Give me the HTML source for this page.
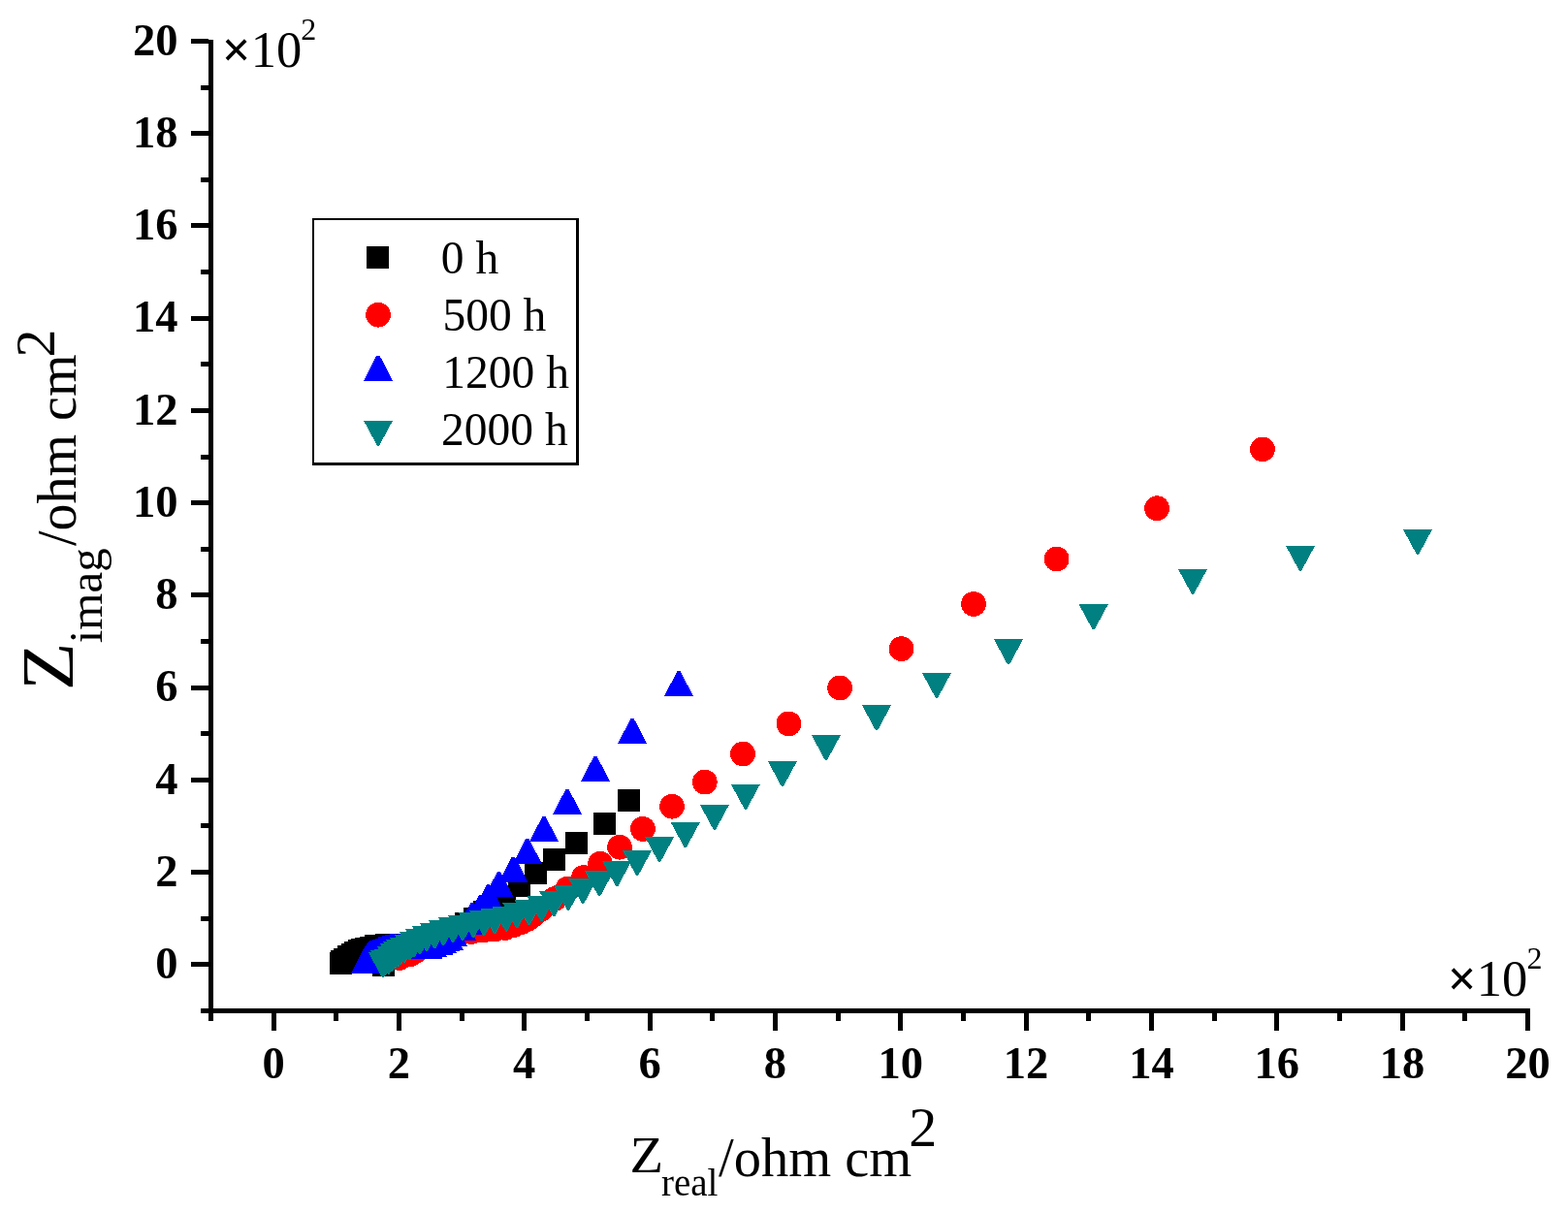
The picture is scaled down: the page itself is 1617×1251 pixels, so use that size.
<!DOCTYPE html>
<html><head><meta charset="utf-8"><style>
html,body{margin:0;padding:0;background:#fff;}
svg{display:block;}
text{font-family:"Liberation Serif","Times New Roman",serif;}
</style></head><body>
<svg width="1617" height="1251" viewBox="0 0 1617 1251">
<rect width="1617" height="1251" fill="#fff"/>
<g shape-rendering="crispEdges" fill="#000">
<rect x="215" y="41" width="5" height="1012"/>
<rect x="207" y="1040" width="1371" height="5"/>
<rect x="197" y="992" width="18" height="5"/>
<rect x="207" y="945" width="8" height="5"/>
<rect x="197" y="897" width="18" height="5"/>
<rect x="207" y="849" width="8" height="5"/>
<rect x="197" y="802" width="18" height="5"/>
<rect x="207" y="754" width="8" height="5"/>
<rect x="197" y="707" width="18" height="5"/>
<rect x="207" y="659" width="8" height="5"/>
<rect x="197" y="611" width="18" height="5"/>
<rect x="207" y="564" width="8" height="5"/>
<rect x="197" y="516" width="18" height="5"/>
<rect x="207" y="469" width="8" height="5"/>
<rect x="197" y="421" width="18" height="5"/>
<rect x="207" y="373" width="8" height="5"/>
<rect x="197" y="326" width="18" height="5"/>
<rect x="207" y="278" width="8" height="5"/>
<rect x="197" y="230" width="18" height="5"/>
<rect x="207" y="183" width="8" height="5"/>
<rect x="197" y="135" width="18" height="5"/>
<rect x="207" y="88" width="8" height="5"/>
<rect x="197" y="40" width="18" height="5"/>
<rect x="280" y="1045" width="5" height="18"/>
<rect x="344" y="1045" width="5" height="8"/>
<rect x="409" y="1045" width="5" height="18"/>
<rect x="474" y="1045" width="5" height="8"/>
<rect x="538" y="1045" width="5" height="18"/>
<rect x="603" y="1045" width="5" height="8"/>
<rect x="668" y="1045" width="5" height="18"/>
<rect x="732" y="1045" width="5" height="8"/>
<rect x="797" y="1045" width="5" height="18"/>
<rect x="862" y="1045" width="5" height="8"/>
<rect x="926" y="1045" width="5" height="18"/>
<rect x="991" y="1045" width="5" height="8"/>
<rect x="1056" y="1045" width="5" height="18"/>
<rect x="1120" y="1045" width="5" height="8"/>
<rect x="1185" y="1045" width="5" height="18"/>
<rect x="1250" y="1045" width="5" height="8"/>
<rect x="1314" y="1045" width="5" height="18"/>
<rect x="1379" y="1045" width="5" height="8"/>
<rect x="1444" y="1045" width="5" height="18"/>
<rect x="1508" y="1045" width="5" height="8"/>
<rect x="1573" y="1045" width="5" height="18"/>
</g>
<g font-family="'Liberation Serif', 'Times New Roman', serif" font-weight="bold" font-size="46.5" fill="#000">
<text x="282.0" y="1112" text-anchor="middle">0</text>
<text x="411.4" y="1112" text-anchor="middle">2</text>
<text x="540.7" y="1112" text-anchor="middle">4</text>
<text x="670.0" y="1112" text-anchor="middle">6</text>
<text x="799.4" y="1112" text-anchor="middle">8</text>
<text x="928.8" y="1112" text-anchor="middle">10</text>
<text x="1058.1" y="1112" text-anchor="middle">12</text>
<text x="1187.4" y="1112" text-anchor="middle">14</text>
<text x="1316.8" y="1112" text-anchor="middle">16</text>
<text x="1446.1" y="1112" text-anchor="middle">18</text>
<text x="1575.5" y="1112" text-anchor="middle">20</text>
<text x="183.4" y="1009.0" text-anchor="end">0</text>
<text x="183.4" y="913.8" text-anchor="end">2</text>
<text x="183.4" y="818.5" text-anchor="end">4</text>
<text x="183.4" y="723.3" text-anchor="end">6</text>
<text x="183.4" y="628.1" text-anchor="end">8</text>
<text x="183.4" y="532.8" text-anchor="end">10</text>
<text x="183.4" y="437.6" text-anchor="end">12</text>
<text x="183.4" y="342.4" text-anchor="end">14</text>
<text x="183.4" y="247.2" text-anchor="end">16</text>
<text x="183.4" y="151.9" text-anchor="end">18</text>
<text x="183.4" y="56.7" text-anchor="end">20</text>
</g>
<g font-family="'Liberation Serif', 'Times New Roman', serif" fill="#000">
<text x="228.8" y="69" font-size="52.5"><tspan font-weight="bold">×</tspan>10</text><text x="310.3" y="41" font-size="32">2</text>
<text x="1492.8" y="1027" font-size="52.5"><tspan font-weight="bold">×</tspan>10</text><text x="1574.5" y="999.2" font-size="32">2</text>
<text x="649.5" y="1209" font-size="52" textLength="34.6" lengthAdjust="spacingAndGlyphs">Z</text>
<text x="682" y="1233" font-size="39">real</text>
<text x="741" y="1212.6" font-size="56.5">/ohm cm</text>
<text x="937.3" y="1182.3" font-size="58">2</text>
<g transform="rotate(-90)">
<text x="-712" y="75.2" font-size="77" textLength="49.3" lengthAdjust="spacingAndGlyphs">Z</text>
<text x="-663.3" y="105" font-size="49">imag</text>
<text x="-563" y="78" font-size="56">/ohm cm</text>
<text x="-368.5" y="56" font-size="58">2</text>
</g>
<g font-size="47.5">
<text x="454.8" y="281.6">0 h</text>
<text x="456.4" y="340.7">500 h</text>
<text x="456.3" y="399.6">1200 h</text>
<text x="455.1" y="458.5">2000 h</text>
</g>
</g>
<g shape-rendering="crispEdges" fill="#000">
<rect x="322" y="225" width="275" height="2"/><rect x="322" y="477" width="275" height="3"/>
<rect x="322" y="225" width="2" height="255"/><rect x="594" y="225" width="3" height="255"/>
</g>
<g shape-rendering="crispEdges">
<rect x="378.2" y="254.3" width="23" height="23" fill="#000000"/>
<circle cx="390.0" cy="324.7" r="12.9" fill="#ff0000"/>
<polygon points="388.5,366.6 391.5,366.6 405.0,392.6 375.0,392.6" fill="#0000ff"/>
<polygon points="375.0,433.8 405.0,433.8 391.0,459.8 389.0,459.8" fill="#008080"/>
<rect x="340.0" y="982.0" width="23" height="23" fill="#000000"/>
<rect x="340.5" y="979.5" width="23" height="23" fill="#000000"/>
<rect x="344.0" y="978.0" width="23" height="23" fill="#000000"/>
<rect x="348.0" y="975.0" width="23" height="23" fill="#000000"/>
<rect x="352.0" y="973.0" width="23" height="23" fill="#000000"/>
<rect x="355.0" y="971.0" width="23" height="23" fill="#000000"/>
<rect x="359.0" y="969.0" width="23" height="23" fill="#000000"/>
<rect x="362.0" y="968.0" width="23" height="23" fill="#000000"/>
<rect x="366.0" y="967.0" width="23" height="23" fill="#000000"/>
<rect x="371.0" y="966.0" width="23" height="23" fill="#000000"/>
<rect x="376.0" y="964.0" width="23" height="23" fill="#000000"/>
<rect x="387.0" y="963.0" width="23" height="23" fill="#000000"/>
<rect x="394.5" y="964.5" width="23" height="23" fill="#000000"/>
<rect x="388.5" y="973.5" width="23" height="23" fill="#000000"/>
<rect x="384.1" y="983.9" width="23" height="23" fill="#000000"/>
<rect x="398.5" y="966.5" width="23" height="23" fill="#000000"/>
<rect x="413.5" y="960.5" width="23" height="23" fill="#000000"/>
<rect x="428.5" y="954.5" width="23" height="23" fill="#000000"/>
<rect x="443.5" y="950.5" width="23" height="23" fill="#000000"/>
<rect x="456.5" y="946.5" width="23" height="23" fill="#000000"/>
<rect x="469.3" y="941.0" width="23" height="23" fill="#000000"/>
<rect x="478.2" y="936.0" width="23" height="23" fill="#000000"/>
<rect x="487.5" y="929.0" width="23" height="23" fill="#000000"/>
<rect x="497.5" y="921.5" width="23" height="23" fill="#000000"/>
<rect x="509.0" y="913.5" width="23" height="23" fill="#000000"/>
<rect x="524.0" y="901.5" width="23" height="23" fill="#000000"/>
<rect x="541.0" y="888.8" width="23" height="23" fill="#000000"/>
<rect x="560.0" y="874.5" width="23" height="23" fill="#000000"/>
<rect x="583.1" y="858.0" width="23" height="23" fill="#000000"/>
<rect x="612.0" y="837.5" width="23" height="23" fill="#000000"/>
<rect x="637.0" y="814.0" width="23" height="23" fill="#000000"/>
<circle cx="412.0" cy="988.0" r="12.9" fill="#ff0000"/>
<circle cx="422.5" cy="984.6" r="12.9" fill="#ff0000"/>
<circle cx="428.9" cy="980.7" r="12.9" fill="#ff0000"/>
<circle cx="434.6" cy="976.3" r="12.9" fill="#ff0000"/>
<circle cx="445.0" cy="972.0" r="12.9" fill="#ff0000"/>
<circle cx="455.0" cy="968.0" r="12.9" fill="#ff0000"/>
<circle cx="465.0" cy="965.0" r="12.9" fill="#ff0000"/>
<circle cx="475.0" cy="962.0" r="12.9" fill="#ff0000"/>
<circle cx="486.0" cy="961.0" r="12.9" fill="#ff0000"/>
<circle cx="498.0" cy="959.5" r="12.9" fill="#ff0000"/>
<circle cx="510.0" cy="958.5" r="12.9" fill="#ff0000"/>
<circle cx="521.0" cy="957.0" r="12.9" fill="#ff0000"/>
<circle cx="530.0" cy="954.0" r="12.9" fill="#ff0000"/>
<circle cx="538.0" cy="951.0" r="12.9" fill="#ff0000"/>
<circle cx="544.0" cy="948.0" r="12.9" fill="#ff0000"/>
<circle cx="550.0" cy="943.5" r="12.9" fill="#ff0000"/>
<circle cx="558.0" cy="937.5" r="12.9" fill="#ff0000"/>
<circle cx="572.0" cy="927.0" r="12.9" fill="#ff0000"/>
<circle cx="585.5" cy="916.5" r="12.9" fill="#ff0000"/>
<circle cx="602.0" cy="904.9" r="12.9" fill="#ff0000"/>
<circle cx="619.0" cy="890.8" r="12.9" fill="#ff0000"/>
<circle cx="639.0" cy="873.7" r="12.9" fill="#ff0000"/>
<circle cx="662.9" cy="854.9" r="12.9" fill="#ff0000"/>
<circle cx="693.0" cy="831.7" r="12.9" fill="#ff0000"/>
<circle cx="726.8" cy="806.6" r="12.9" fill="#ff0000"/>
<circle cx="766.0" cy="777.5" r="12.9" fill="#ff0000"/>
<circle cx="813.4" cy="746.4" r="12.9" fill="#ff0000"/>
<circle cx="866.1" cy="709.4" r="12.9" fill="#ff0000"/>
<circle cx="929.6" cy="669.1" r="12.9" fill="#ff0000"/>
<circle cx="1004.0" cy="622.9" r="12.9" fill="#ff0000"/>
<circle cx="1089.6" cy="576.5" r="12.9" fill="#ff0000"/>
<circle cx="1193.1" cy="524.2" r="12.9" fill="#ff0000"/>
<circle cx="1302.0" cy="463.4" r="12.9" fill="#ff0000"/>
<polygon points="375.5,977.5 378.5,977.5 392.0,1003.5 362.0,1003.5" fill="#0000ff"/>
<polygon points="377.0,975.0 380.0,975.0 393.5,1001.0 363.5,1001.0" fill="#0000ff"/>
<polygon points="379.0,972.0 382.0,972.0 395.5,998.0 365.5,998.0" fill="#0000ff"/>
<polygon points="380.5,970.5 383.5,970.5 397.0,996.5 367.0,996.5" fill="#0000ff"/>
<polygon points="381.9,969.7 384.9,969.7 398.4,995.7 368.4,995.7" fill="#0000ff"/>
<polygon points="384.5,968.5 387.5,968.5 401.0,994.5 371.0,994.5" fill="#0000ff"/>
<polygon points="387.9,967.5 390.9,967.5 404.4,993.5 374.4,993.5" fill="#0000ff"/>
<polygon points="390.5,966.3 393.5,966.3 407.0,992.3 377.0,992.3" fill="#0000ff"/>
<polygon points="393.8,965.2 396.8,965.2 410.3,991.2 380.3,991.2" fill="#0000ff"/>
<polygon points="397.5,964.2 400.5,964.2 414.0,990.2 384.0,990.2" fill="#0000ff"/>
<polygon points="401.6,963.4 404.6,963.4 418.1,989.4 388.1,989.4" fill="#0000ff"/>
<polygon points="405.5,963.1 408.5,963.1 422.0,989.1 392.0,989.1" fill="#0000ff"/>
<polygon points="410.1,963.0 413.1,963.0 426.6,989.0 396.6,989.0" fill="#0000ff"/>
<polygon points="418.5,963.0 421.5,963.0 435.0,989.0 405.0,989.0" fill="#0000ff"/>
<polygon points="426.5,963.0 429.5,963.0 443.0,989.0 413.0,989.0" fill="#0000ff"/>
<polygon points="433.5,963.0 436.5,963.0 450.0,989.0 420.0,989.0" fill="#0000ff"/>
<polygon points="440.2,962.9 443.2,962.9 456.7,988.9 426.7,988.9" fill="#0000ff"/>
<polygon points="444.4,961.0 447.4,961.0 460.9,987.0 430.9,987.0" fill="#0000ff"/>
<polygon points="450.8,958.8 453.8,958.8 467.3,984.8 437.3,984.8" fill="#0000ff"/>
<polygon points="454.6,956.9 457.6,956.9 471.1,982.9 441.1,982.9" fill="#0000ff"/>
<polygon points="457.5,955.0 460.5,955.0 474.0,981.0 444.0,981.0" fill="#0000ff"/>
<polygon points="461.5,953.5 464.5,953.5 478.0,979.5 448.0,979.5" fill="#0000ff"/>
<polygon points="465.5,950.0 468.5,950.0 482.0,976.0 452.0,976.0" fill="#0000ff"/>
<polygon points="474.2,943.5 477.2,943.5 490.7,969.5 460.7,969.5" fill="#0000ff"/>
<polygon points="481.1,938.0 484.1,938.0 497.6,964.0 467.6,964.0" fill="#0000ff"/>
<polygon points="485.5,931.0 488.5,931.0 502.0,957.0 472.0,957.0" fill="#0000ff"/>
<polygon points="494.0,923.0 497.0,923.0 510.5,949.0 480.5,949.0" fill="#0000ff"/>
<polygon points="502.2,912.0 505.2,912.0 518.7,938.0 488.7,938.0" fill="#0000ff"/>
<polygon points="513.0,898.8 516.0,898.8 529.5,924.8 499.5,924.8" fill="#0000ff"/>
<polygon points="527.9,883.5 530.9,883.5 544.4,909.5 514.4,909.5" fill="#0000ff"/>
<polygon points="542.4,864.8 545.4,864.8 558.9,890.8 528.9,890.8" fill="#0000ff"/>
<polygon points="559.5,841.9 562.5,841.9 576.0,867.9 546.0,867.9" fill="#0000ff"/>
<polygon points="583.5,813.8 586.5,813.8 600.0,839.8 570.0,839.8" fill="#0000ff"/>
<polygon points="612.5,779.8 615.5,779.8 629.0,805.8 599.0,805.8" fill="#0000ff"/>
<polygon points="650.6,740.8 653.6,740.8 667.1,766.8 637.1,766.8" fill="#0000ff"/>
<polygon points="698.5,692.0 701.5,692.0 715.0,718.0 685.0,718.0" fill="#0000ff"/>
<polygon points="380.0,982.3 410.0,982.3 396.0,1008.3 394.0,1008.3" fill="#008080"/>
<polygon points="382.0,980.4 412.0,980.4 398.0,1006.4 396.0,1006.4" fill="#008080"/>
<polygon points="385.7,978.6 415.7,978.6 401.7,1004.6 399.7,1004.6" fill="#008080"/>
<polygon points="389.0,976.0 419.0,976.0 405.0,1002.0 403.0,1002.0" fill="#008080"/>
<polygon points="392.3,973.4 422.3,973.4 408.3,999.4 406.3,999.4" fill="#008080"/>
<polygon points="395.3,971.2 425.3,971.2 411.3,997.2 409.3,997.2" fill="#008080"/>
<polygon points="398.0,969.1 428.0,969.1 414.0,995.1 412.0,995.1" fill="#008080"/>
<polygon points="402.0,967.2 432.0,967.2 418.0,993.2 416.0,993.2" fill="#008080"/>
<polygon points="407.1,964.3 437.1,964.3 423.1,990.3 421.1,990.3" fill="#008080"/>
<polygon points="411.9,961.3 441.9,961.3 427.9,987.3 425.9,987.3" fill="#008080"/>
<polygon points="418.0,958.2 448.0,958.2 434.0,984.2 432.0,984.2" fill="#008080"/>
<polygon points="425.0,955.0 455.0,955.0 441.0,981.0 439.0,981.0" fill="#008080"/>
<polygon points="433.2,952.2 463.2,952.2 449.2,978.2 447.2,978.2" fill="#008080"/>
<polygon points="442.1,949.2 472.1,949.2 458.1,975.2 456.1,975.2" fill="#008080"/>
<polygon points="452.1,946.1 482.1,946.1 468.1,972.1 466.1,972.1" fill="#008080"/>
<polygon points="462.1,944.1 492.1,944.1 478.1,970.1 476.1,970.1" fill="#008080"/>
<polygon points="473.0,941.0 503.0,941.0 489.0,967.0 487.0,967.0" fill="#008080"/>
<polygon points="484.1,939.1 514.1,939.1 500.1,965.1 498.1,965.1" fill="#008080"/>
<polygon points="495.3,937.1 525.3,937.1 511.3,963.1 509.3,963.1" fill="#008080"/>
<polygon points="507.2,934.5 537.2,934.5 523.2,960.5 521.2,960.5" fill="#008080"/>
<polygon points="518.3,931.2 548.3,931.2 534.3,957.2 532.3,957.2" fill="#008080"/>
<polygon points="530.5,928.2 560.5,928.2 546.5,954.2 544.5,954.2" fill="#008080"/>
<polygon points="543.5,924.1 573.5,924.1 559.5,950.1 557.5,950.1" fill="#008080"/>
<polygon points="556.3,919.3 586.3,919.3 572.3,945.3 570.3,945.3" fill="#008080"/>
<polygon points="571.0,913.1 601.0,913.1 587.0,939.1 585.0,939.1" fill="#008080"/>
<polygon points="586.1,906.0 616.1,906.0 602.1,932.0 600.1,932.0" fill="#008080"/>
<polygon points="603.1,898.2 633.1,898.2 619.1,924.2 617.1,924.2" fill="#008080"/>
<polygon points="621.2,888.2 651.2,888.2 637.2,914.2 635.2,914.2" fill="#008080"/>
<polygon points="642.1,877.1 672.1,877.1 658.1,903.1 656.1,903.1" fill="#008080"/>
<polygon points="665.1,863.1 695.1,863.1 681.1,889.1 679.1,889.1" fill="#008080"/>
<polygon points="691.8,848.2 721.8,848.2 707.8,874.2 705.8,874.2" fill="#008080"/>
<polygon points="721.9,830.0 751.9,830.0 737.9,856.0 735.9,856.0" fill="#008080"/>
<polygon points="753.9,808.9 783.9,808.9 769.9,834.9 767.9,834.9" fill="#008080"/>
<polygon points="791.9,785.1 821.9,785.1 807.9,811.1 805.9,811.1" fill="#008080"/>
<polygon points="836.9,758.2 866.9,758.2 852.9,784.2 850.9,784.2" fill="#008080"/>
<polygon points="889.0,727.4 919.0,727.4 905.0,753.4 903.0,753.4" fill="#008080"/>
<polygon points="951.0,694.0 981.0,694.0 967.0,720.0 965.0,720.0" fill="#008080"/>
<polygon points="1025.0,659.3 1055.0,659.3 1041.0,685.3 1039.0,685.3" fill="#008080"/>
<polygon points="1112.7,623.3 1142.7,623.3 1128.7,649.3 1126.7,649.3" fill="#008080"/>
<polygon points="1215.0,586.9 1245.0,586.9 1231.0,612.9 1229.0,612.9" fill="#008080"/>
<polygon points="1326.0,562.9 1356.0,562.9 1342.0,588.9 1340.0,588.9" fill="#008080"/>
<polygon points="1447.0,546.0 1477.0,546.0 1463.0,572.0 1461.0,572.0" fill="#008080"/>
</g>
</svg>
</body></html>
